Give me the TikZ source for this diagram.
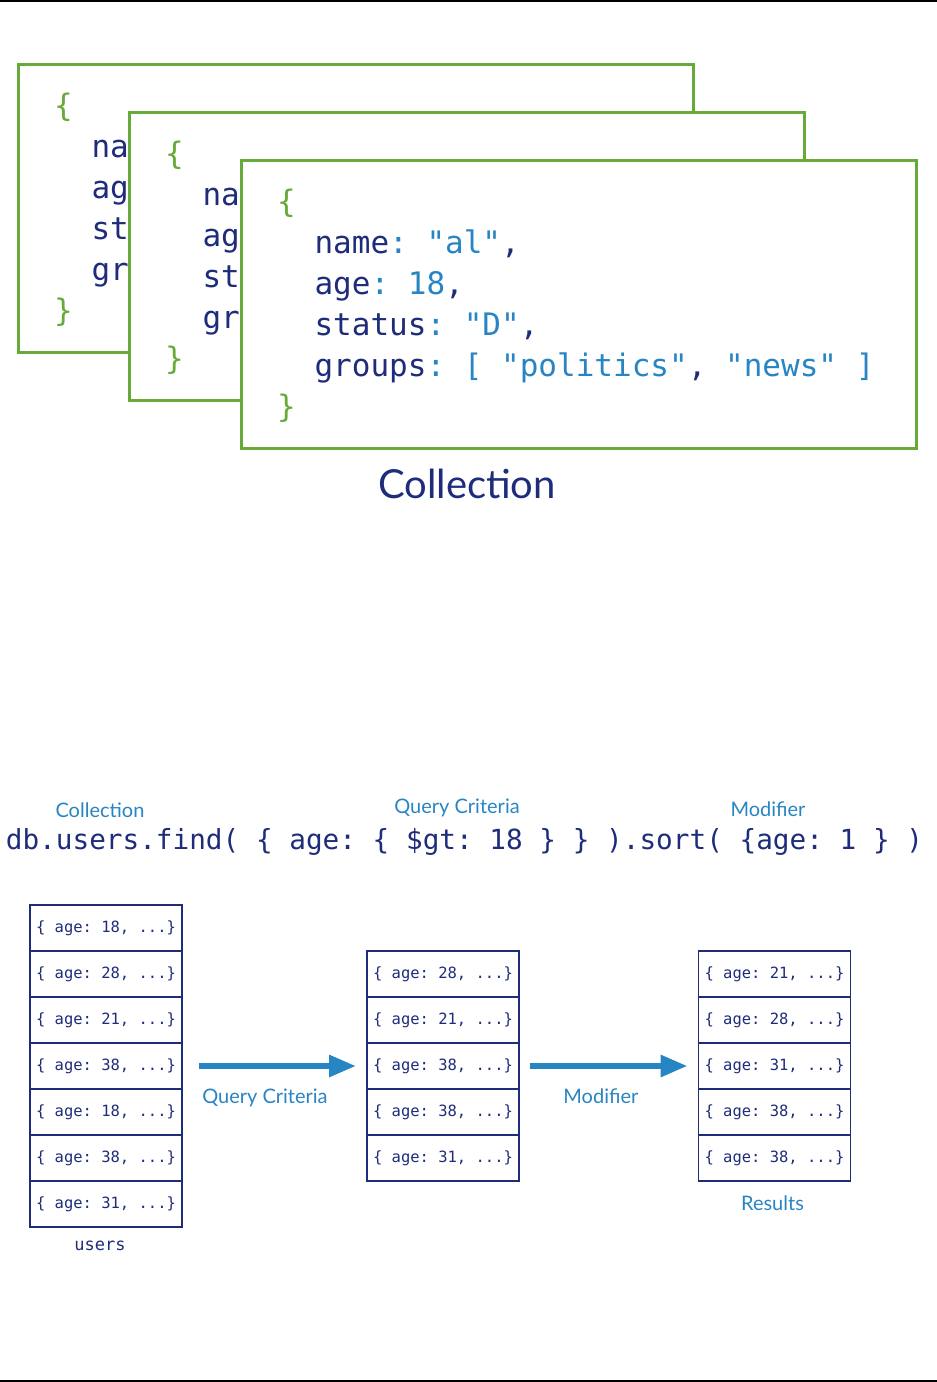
\documentclass[tikz,border=0pt]{standalone}
\usepackage{fontspec}
\setmainfont{Lato}
\setmonofont{DejaVu Sans Mono}
\usepackage{xcolor}
\usetikzlibrary{positioning,arrows.meta}
\definecolor{navy}{RGB}{30,44,122}
\definecolor{keyblue}{RGB}{40,133,196}
\definecolor{docgreen}{RGB}{104,170,58}
\tikzset{
  card/.style={draw=docgreen, fill=white, line width=3pt, anchor=north west,
    minimum width=675pt, minimum height=288pt, inner sep=0pt, outer sep=0pt},
  cardtext/.style={anchor=base west, align=left, inner sep=0pt, text=navy,
    font=\fontsize{31}{41}\selectfont\ttfamily},
  rowbox/.style={draw=navy, line width=1.3pt, minimum width=152pt, minimum height=46pt,
    inner sep=0pt, outer sep=0pt, text=navy, font=\fontsize{15.5}{18}\selectfont\ttfamily},
  caption/.style={text=keyblue, font=\fontsize{20}{24}\selectfont, inner sep=0pt},
  flow/.style={-{Triangle[length=27pt,width=21pt]}, line width=6pt, draw=keyblue},
}
\newcommand{\ind}{\hspace*{1.204em}}
% the full document, and what shows of the ones behind
\newcommand{\fulldoc}{\textcolor{docgreen}{\{}\\
  \ind name\textcolor{keyblue}{: "al"},\\
  \ind age\textcolor{keyblue}{: 18},\\
  \ind status\textcolor{keyblue}{: "D"},\\
  \ind groups\textcolor{keyblue}{: [ "politics"}, \textcolor{keyblue}{"news" ]}\\
  \textcolor{docgreen}{\}}}
\newcommand{\peekdoc}{\textcolor{docgreen}{\{}\\
  \ind na\\ \ind ag\\ \ind st\\ \ind gr\\
  \textcolor{docgreen}{\}}}
% one document card (base anchor is on the last line)
\newcommand{\jsoncard}[4]{%
  \node[card] (#1) at (#2,#3) {};
  \node[cardtext] (#1txt) at ([xshift=36pt,yshift=-257pt]#1.north west) {#4};
}

\begin{document}
\begin{tikzpicture}[x=1pt, y=-1pt]
  \useasboundingbox (0,0) rectangle (937,1382);
  \draw[line width=1.5pt] (0,1) -- (937,1);
  \draw[line width=1.5pt] (0,1381) -- (937,1381);

  % stacked documents
  \jsoncard{doca}{18}{64}{\peekdoc}
  \jsoncard{docb}{129}{112}{\peekdoc}
  \jsoncard{docc}{241}{160}{\fulldoc}
  \node[text=navy, font=\fontsize{40}{48}\selectfont, inner sep=0pt] (coll) at (467,484) {Collection};

  % the query
  \node[text=navy, font=\fontsize{27.7}{32}\selectfont\ttfamily, inner sep=0pt] (query) at (464.5,842)
    {db.users.find( \{ age: \{ \$gt: 18 \} \} ).sort( \{age: 1 \} )};
  \node[caption] (qcoll) at (100,810) {Collection};
  \node[caption] (qcrit) at (457,808) {Query Criteria};
  \node[caption] (qmod) at (768,809) {Modifier};

  % users, filtered, sorted
  \foreach \a [count=\i] in {18,28,21,38,18,38,31}
    \node[rowbox] (u\i) at (106,{928+46*(\i-1)}) {\{ age: \a, ...\}};
  \foreach \a [count=\i] in {28,21,38,38,31}
    \node[rowbox] (m\i) at (443,{974+46*(\i-1)}) {\{ age: \a, ...\}};
  \foreach \a [count=\i] in {21,28,31,38,38}
    \node[rowbox] (r\i) at (774.5,{974+46*(\i-1)}) {\{ age: \a, ...\}};
  \node[text=navy, font=\fontsize{17}{20}\selectfont\ttfamily, inner sep=0pt,
    below=14pt of u7, xshift=-6pt] (users) {users};
  \node[caption, below=15pt of r5, xshift=-2pt] (res) {Results};

  \draw[flow] ([xshift=17pt]u4.east) -- ([xshift=-11pt]m3.west)
    node[caption, pos=0.42, below=20pt] (lcrit) {Query Criteria};
  \draw[flow] ([xshift=11pt]m3.east) -- ([xshift=-11pt]r3.west)
    node[caption, pos=0.45, below=20pt] (lmod) {Modifier};
\end{tikzpicture}
\end{document}
